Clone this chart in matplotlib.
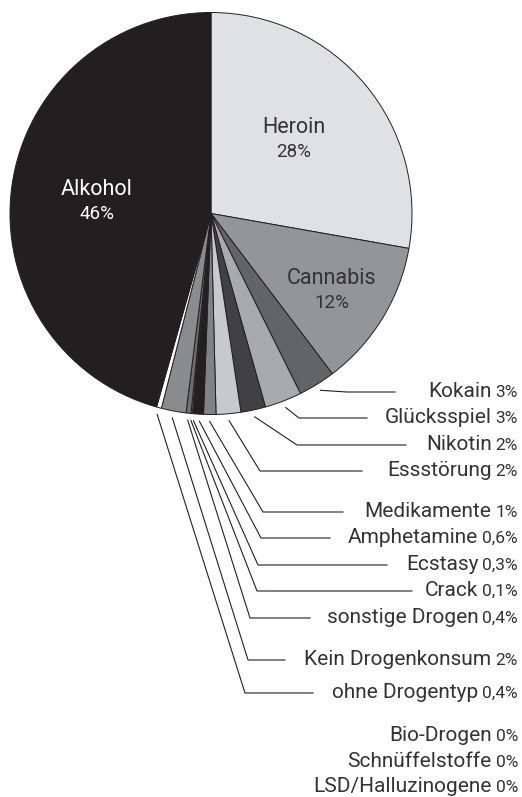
import numpy as np
import matplotlib.pyplot as plt

# --- data ---
categories = ['Heroin', 'Cannabis', 'Kokain', 'Glücksspiel', 'Nikotin', 'Essstörung',
              'Medikamente', 'Amphetamine', 'Ecstasy', 'Crack', 'sonstige Drogen',
              'Kein Drogenkonsum', 'ohne Drogentyp', 'Alkohol']
shares = [28, 12, 3, 3, 2, 2, 1, 0.6, 0.3, 0.1, 0.4, 2, 0.4, 46]
pct_labels = ['28%', '12%', '3%', '3%', '2%', '2%', '1%', '0,6%', '0,3%', '0,1%',
              '0,4%', '2%', '0,4%', '46%']
zero_categories = ['Bio-Drogen', 'Schnüffelstoffe', 'LSD/Halluzinogene']
zero_pcts = ['0%', '0%', '0%']

colors = ['#e0e1e2', '#949598', '#636466', '#a8aaad', '#414042', '#c8c9cb',
          '#808285', '#231f20', '#231f20', '#ffffff', '#6d6e71', '#8a8b8e',
          '#ffffff', '#231f20']

# --- layout (pixel coords, origin top-left) ---
W, H = 522, 797
cx, cy, R = 211, 213.5, 201
inner = {'Heroin': (294, 127, '#333333'), 'Cannabis': (332, 278, '#333333'),
         'Alkohol': (97, 189, 'white')}
outer_base = [397, 423, 450, 476, 517, 543, 570, 596, 623, 665, 698]
elbow_x = [347, 299, 297, 260, 263, 261, 258, 257, 250, 248, 245]
end_x = [395, 367, 406, 362, 343, 330, 387, 412, 310, 285, 313]
zero_base = [741, 767, 792]
right_x = 518
ink = '#231f20'
txt = '#333333'
fam = ['Roboto', 'DejaVu Sans']


def fy(y):
    return H - y


fig = plt.figure(figsize=(W / 100, H / 100), dpi=100)
ax = fig.add_axes([0, 0, 1, 1])
wedges, _ = ax.pie(shares, colors=colors, startangle=90, counterclock=False,
                   center=(cx, fy(cy)), radius=R,
                   wedgeprops=dict(edgecolor=ink, linewidth=0.7))
ax.set_xlim(0, W)
ax.set_ylim(0, H)
ax.set_aspect('equal')
ax.axis('off')

# labels inside the big slices
for name, (x, y, c) in inner.items():
    i = categories.index(name)
    ax.text(x, fy(y), name, ha='center', va='center', fontsize=15.5,
            color=c, family=fam)
    ax.text(x, fy(y + 25), pct_labels[i], ha='center', va='center', fontsize=13.5,
            color=c, family=fam)

renderer = fig.canvas.get_renderer()


def right_label(name, pct, base):
    t = ax.text(right_x, fy(base), pct, ha='right', va='baseline', fontsize=12.5,
                color=txt, family=fam)
    bb = t.get_window_extent(renderer)
    ax.text(bb.x0 - 4, fy(base), name, ha='right', va='baseline', fontsize=15,
            color=txt, family=fam)


# leader lines for the small slices
small = categories[2:13]
for k, name in enumerate(small):
    i = categories.index(name)
    w = wedges[i]
    mid = np.deg2rad((w.theta1 + w.theta2) / 2)
    sx = cx + (R + 7) * np.cos(mid)
    sy = fy(cy) + (R + 7) * np.sin(mid)
    ly = fy(outer_base[k] - 5)
    ax.plot([sx, elbow_x[k], end_x[k]], [sy, ly, ly], color=ink, lw=0.8,
            solid_joinstyle='miter')
    right_label(name, pct_labels[i], outer_base[k])

for name, pct, base in zip(zero_categories, zero_pcts, zero_base):
    right_label(name, pct, base)

fig.savefig('out.png', dpi=100)
